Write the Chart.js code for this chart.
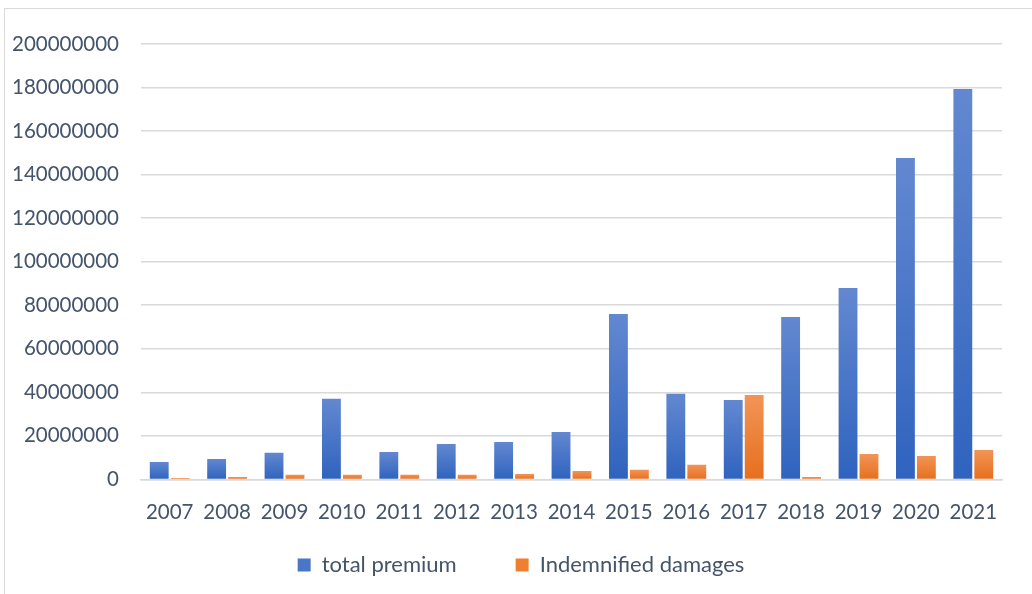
<!DOCTYPE html>
<html>
<head>
<meta charset="utf-8">
<script src="https://cdn.jsdelivr.net/npm/chart.js@4"></script>
<style>
  html, body { margin: 0; padding: 0; background: #fff; }
  #wrap { position: relative; width: 1032px; height: 594px; overflow: hidden; }
  #frame { position: absolute; left: 4px; top: 8px; width: 1040px; height: 600px; border: 1px solid #d9d9d9; box-sizing: border-box; }
  canvas { position: absolute; left: 0; top: 0; }
</style>
</head>
<body>
<div id="wrap">
  <div id="frame"></div>
  <canvas id="myChart" width="1032" height="594"></canvas>
</div>
<script>
const years = ['2007', '2008', '2009', '2010', '2011', '2012', '2013', '2014', '2015', '2016', '2017', '2018', '2019', '2020', '2021'];
const totalPremium = [8000000, 9400000, 12200000, 37000000, 12600000, 16300000, 17200000, 21800000, 76000000, 39300000, 36500000, 74600000, 87900000, 147600000, 179300000];
const indemnifiedDamages = [700000, 1100000, 2100000, 2100000, 2100000, 2100000, 2500000, 3900000, 4400000, 6700000, 38800000, 1100000, 11700000, 10800000, 13500000];

const textColor = '#44546a';
const legendHeight = 56;      // fixed legend box height
const legendCenter = [521, 565]; // where the legend row is centred

// per-bar vertical gradient, light at top, dark at bottom
function barGradient(light, dark) {
  return function (context) {
    const chart = context.chart;
    const y = chart.scales && chart.scales.y;
    if (!y || context.parsed == null || context.type !== 'data') return dark;
    const top = y.getPixelForValue(context.parsed.y);
    const bottom = y.getPixelForValue(0);
    if (!isFinite(top) || !isFinite(bottom) || top === bottom) return dark;
    const g = chart.ctx.createLinearGradient(0, top, 0, bottom);
    g.addColorStop(0, light);
    g.addColorStop(1, dark);
    return g;
  };
}

// legend keeps its wide horizontal gap but not the tall vertical one
const legendShift = {
  id: 'legendShift',
  beforeLayout(chart) {
    const lg = chart.legend;
    if (!lg || lg._shifted) return;
    lg._shifted = true;
    const fit = lg.fit, drawItems = lg._draw;
    lg.fit = function () { fit.call(this); this.height = legendHeight; };
    lg._draw = function () {
      const pad = this.options.labels.padding;
      const size = this.options.labels.font.size;
      const c = this.ctx;
      c.save();
      c.translate(legendCenter[0] - (this.left + this.right) / 2,
                  legendCenter[1] - (this.top + pad + size / 2));
      drawItems.call(this);
      c.restore();
    };
  }
};

const ctx = document.getElementById('myChart');

new Chart(ctx, {
  type: 'bar',
  data: {
    labels: years,
    datasets: [{
      label: 'total premium',
      data: totalPremium,
      backgroundColor: barGradient('#6388d0', '#2f63be'),
      borderWidth: 0
    }, {
      label: 'Indemnified damages',
      data: indemnifiedDamages,
      backgroundColor: barGradient('#f29457', '#e66f1d'),
      borderWidth: 0
    }]
  },
  plugins: [legendShift],
  options: {
    responsive: false,
    animation: false,
    categoryPercentage: 0.73,
    barPercentage: 0.9,
    layout: { padding: { left: 0, right: 30, top: 44, bottom: 0 } },
    plugins: {
      legend: {
        position: 'bottom',
        labels: {
          color: textColor,
          font: { family: 'Lato', size: 22 },
          boxWidth: 13,
          boxHeight: 13,
          padding: 59,
          generateLabels: function (chart) {
            const fills = ['#4a76c8', '#ee8030'];
            return chart.data.datasets.map((ds, i) => ({
              text: ds.label,
              fillStyle: fills[i],
              strokeStyle: fills[i],
              lineWidth: 0,
              fontColor: textColor,
              datasetIndex: i
            }));
          }
        }
      },
      tooltip: { enabled: false }
    },
    scales: {
      x: {
        grid: { display: false },
        border: { color: '#d9d9d9', width: 1.5 },
        ticks: { color: textColor, font: { family: 'Lato', size: 20.5 }, padding: 13 }
      },
      y: {
        min: 0,
        max: 200000000,
        grid: { color: '#d9d9d9', lineWidth: 1.5, drawTicks: false },
        border: { display: false },
        ticks: {
          stepSize: 20000000,
          color: textColor,
          font: { family: 'Lato', size: 20.5 },
          padding: 22,
          callback: v => String(v)
        },
        afterFit: function (scale) { scale.width = 141; }
      }
    }
  }
});
</script>
</body>
</html>
